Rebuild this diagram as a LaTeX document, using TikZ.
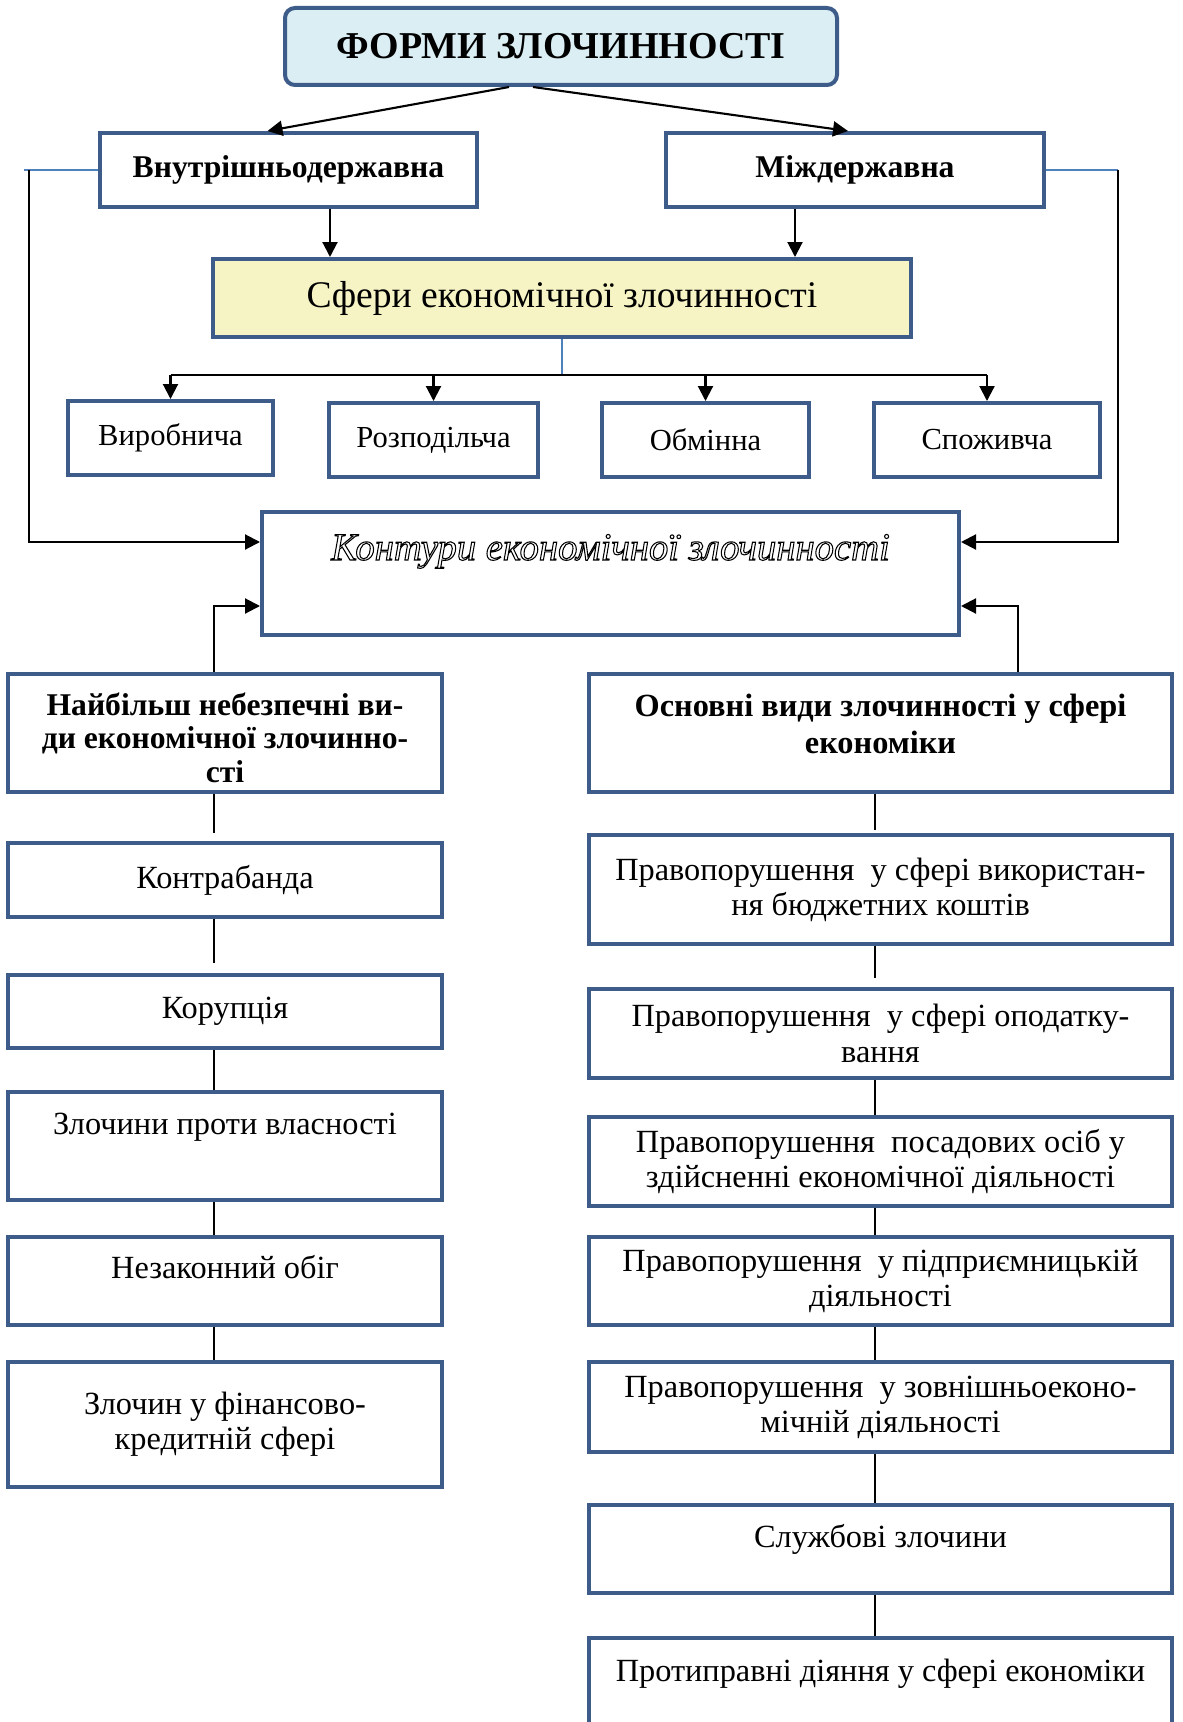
\documentclass[tikz,border=0pt]{standalone}
\usepackage{fontspec}
\setmainfont{Liberation Serif}
\usetikzlibrary{arrows.meta,positioning,calc}
\definecolor{boxblue}{RGB}{62,92,138}
\definecolor{linkblue}{RGB}{79,129,189}
\definecolor{titlefill}{RGB}{219,238,243}
\definecolor{spherefill}{RGB}{246,244,196}
\newcommand{\outl}[1]{\special{pdf:literal direct 1 Tr 0.3 w}#1\special{pdf:literal direct 0 Tr}}
\tikzset{
  Bbox/.style={draw=boxblue, line width=0.4mm, align=center, inner sep=2pt,
               font=\fontsize{9.2pt}{10pt}\selectfont},
  Lcol/.style={minimum width=43.4mm},
  Rcol/.style={minimum width=58.3mm},
  Sbox/.style={Bbox, minimum height=7.4mm, font=\fontsize{8.7pt}{10pt}\selectfont},
  Hbox/.style={Bbox, font=\bfseries\fontsize{9pt}{10pt}\selectfont},
  Raise/.style={text height=2.2mm, text depth=#1},
  Narr/.style={-{Triangle[length=1.5mm,width=1.5mm]}, line width=0.6pt},
  Nlink/.style={line width=0.5pt},
  Blink/.style={draw=linkblue, line width=0.5pt}
}
\begin{document}
\begin{tikzpicture}[x=0.1mm, y=-0.1mm]
  \clip (0,0) rectangle (1182,1722);
  % top level
  \node[Bbox, fill=titlefill, rounded corners=1mm, minimum width=55.2mm, minimum height=7.7mm,
        font=\bfseries\fontsize{10.8pt}{12pt}\selectfont] (forms) at (561,46.5) {ФОРМИ ЗЛОЧИННОСТІ};
  \node[Hbox, minimum width=37.7mm, minimum height=7.4mm] (intra) at (288.5,170) {Внутрішньодержавна};
  \node[Hbox, minimum width=37.8mm, minimum height=7.4mm] (inter) at (855,170) {Міждержавна};
  \node[Bbox, fill=spherefill, minimum width=69.8mm, minimum height=7.8mm,
        font=\fontsize{10.7pt}{12pt}\selectfont] (spheres) at (562,298) {Сфери економічної злочинності};
  % spheres
  \node[Sbox, minimum width=20.5mm] (prod) at (170.5,438) {Виробнича};
  \node[Sbox, minimum width=20.9mm] (distr) at (433.5,440) {Розподільча};
  \node[Sbox, minimum width=20.7mm] (exch) at (705.5,440) {Обмінна};
  \node[Sbox, minimum width=22.6mm] (cons) at (987,440) {Споживча};
  % contours
  \node[Bbox, minimum width=69.7mm, minimum height=12.3mm, Raise=4.9mm,
        font=\itshape\fontsize{11pt}{12pt}\selectfont] (contours) at (610.5,573.5)
        {\outl{Контури економічної злочинності}};
  % left column
  \node[Hbox, Lcol, minimum height=11.8mm, font=\bfseries\fontsize{9pt}{9.6pt}\selectfont] (danger) at (225,733)
        {\rule{0pt}{3.2mm}Найбільш небезпечні ви-\\ди економічної злочинно-\\сті};
  \node[Bbox, Lcol, minimum height=7.4mm] (smug) at (225,880) {Контрабанда};
  \node[Bbox, Lcol, minimum height=7.3mm] (corr) at (225,1011.5) {Корупція};
  \node[Bbox, Lcol, minimum height=10.8mm, Raise=4.6mm] (prop) at (225,1146) {Злочини проти власності};
  \node[Bbox, Lcol, minimum height=8.8mm, Raise=2.8mm] (illeg) at (225,1281) {Незаконний обіг};
  \node[Bbox, Lcol, minimum height=12.5mm] (fin) at (225,1424.5) {Злочин у фінансово-\\кредитній сфері};
  % right column
  \node[Hbox, Rcol, minimum height=11.8mm, font=\bfseries\fontsize{9.2pt}{10.3pt}\selectfont] (basic) at (880.5,733)
        {Основні види злочинності у сфері\\економіки\\[-5pt]};
  \node[Bbox, Rcol, minimum height=10.9mm] (r1) at (880.5,889.5) {Правопорушення\ \ у сфері використан-\\ня бюджетних коштів};
  \node[Bbox, Rcol, minimum height=8.9mm] (r2) at (880.5,1033.5) {Правопорушення\ \ у сфері оподатку-\\вання};
  \node[Bbox, Rcol, minimum height=8.9mm] (r3) at (880.5,1161.5) {Правопорушення\ \ посадових осіб у\\здійсненні економічної діяльності};
  \node[Bbox, Rcol, minimum height=8.8mm] (r4) at (880.5,1281) {Правопорушення\ \ у підприємницькій\\діяльності};
  \node[Bbox, Rcol, minimum height=9mm] (r5) at (880.5,1407) {Правопорушення\ \ у зовнішньоеконо-\\мічній діяльності};
  \node[Bbox, Rcol, minimum height=8.8mm, Raise=2.6mm] (r6) at (880.5,1549) {Службові злочини};
  \node[Bbox, Rcol, minimum height=11.2mm, Raise=4.8mm] (r7) at (880.5,1694) {Протиправні діяння у сфері економіки};

  % arrows from the title
  \draw[Narr] ($(forms.south)+(-52,0)$) -- ($(intra.north)+(-21,0)$);
  \draw[Narr] ($(forms.south)+(-28,0)$) -- ($(inter.north)+(-7,0)$);
  \coordinate (iA) at ($(intra.south)+(41.5,0)$);
  \coordinate (iB) at ($(inter.south)+(-60,0)$);
  \draw[Narr] (iA) -- (iA |- spheres.north);
  \draw[Narr] (iB) -- (iB |- spheres.north);

  % side loops into the contours
  \coordinate (cinLa) at ($(contours.west)+(0,-31.5)$);
  \coordinate (cinLb) at ($(contours.west)+(0,32.5)$);
  \coordinate (cinRa) at ($(contours.east)+(0,-31.5)$);
  \coordinate (cinRb) at ($(contours.east)+(0,32.5)$);
  \draw[Blink] (intra.west) -- ++(-74,0);
  \draw[Narr] ($(intra.west)+(-69,0)$) |- (cinLa);
  \draw[Blink] (inter.east) -- ++(72,0);
  \draw[Narr] ($(inter.east)+(72,0)$) |- (cinRa);

  % spheres fan-out
  \draw[Blink] (spheres.south) -- ++(0,36) coordinate (hub);
  \draw[Narr, -] (prod.north |- hub) -- (cons.north |- hub);
  \foreach \s in {prod,distr,exch,cons}
    \draw[Narr] (\s.north |- hub) -- (\s.north);

  % into contours from below
  \draw[Narr] ($(danger.north)+(-11,0)$) |- (cinLb);
  \draw[Narr] ($(basic.north)+(137.5,0)$) |- (cinRb);

  % chains
  \foreach \a/\b/\g in {danger/smug/0.8mm, smug/corr/1mm, corr/prop/0mm, prop/illeg/0mm, illeg/fin/0mm}
    \draw[Nlink, shorten >=\g] ([xshift=-1.1mm]\a.south) -- ([xshift=-1.1mm]\b.north);
  \foreach \a/\b/\g in {basic/r1/0.3mm, r1/r2/0.9mm, r2/r3/0mm, r3/r4/0mm, r4/r5/0mm, r5/r6/0mm, r6/r7/0mm}
    \draw[Nlink, shorten >=\g] ([xshift=-0.55mm]\a.south) -- ([xshift=-0.55mm]\b.north);
\end{tikzpicture}
\end{document}
